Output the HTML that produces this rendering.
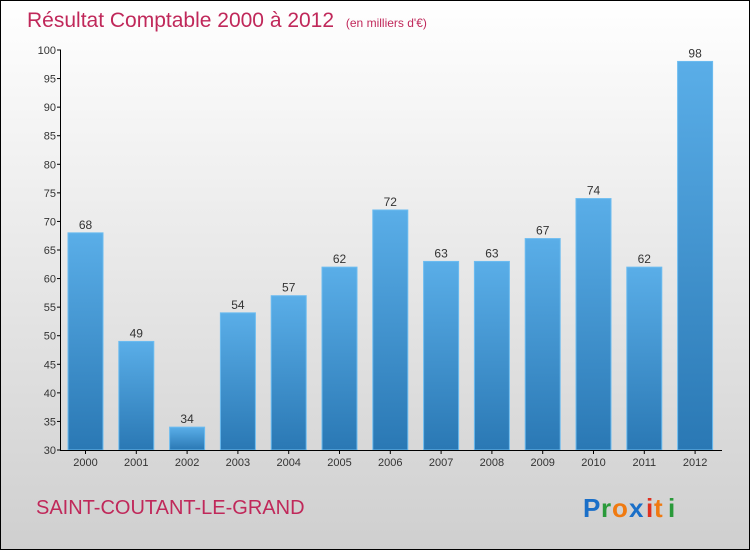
<!DOCTYPE html>
<html><head><meta charset="utf-8"><style>
html,body{margin:0;padding:0}
body{width:750px;height:550px;overflow:hidden;font-family:"Liberation Sans",sans-serif}
</style></head><body>
<svg id="chart" width="750" height="550" xmlns="http://www.w3.org/2000/svg">
<defs>
<linearGradient id="bg" x1="0" y1="0" x2="0" y2="1"><stop offset="0" stop-color="#ffffff"/><stop offset="1" stop-color="#cfcfcf"/></linearGradient>
<linearGradient id="bar" x1="0" y1="0" x2="0" y2="1"><stop offset="0" stop-color="#5aaee8"/><stop offset="1" stop-color="#2a78b4"/></linearGradient>
</defs>
<rect x="0.5" y="0.5" width="749" height="549" fill="url(#bg)" stroke="#000"/>
<text x="27" y="27" font-size="21" fill="#c0285a">Résultat Comptable 2000 à 2012 <tspan font-size="12" dx="6">(en milliers d'€)</tspan></text>
<g id="bars"></g>
<g id="axes"></g>
<text x="36" y="514" font-size="20" fill="#c0285a">SAINT-COUTANT-LE-GRAND</text>
<g font-size="26" font-weight="bold" font-family="'Liberation Sans',sans-serif">
<text x="583" y="517" fill="#1a6fc8">P</text><text x="601" y="517" fill="#2a9a3a">r</text><text x="612" y="517" fill="#f07a10">o</text><text x="629" y="517" fill="#1a6fc8">x</text><text x="646" y="517" fill="#e03020">i</text><text x="654" y="517" fill="#f07a10">t</text><text x="668" y="517" fill="#2a9a3a">i</text>
</g>
</svg>
<script>
const years=["2000","2001","2002","2003","2004","2005","2006","2007","2008","2009","2010","2011","2012"];
const values=[68,49,34,54,57,62,72,63,63,67,74,62,98];
const yTicks=[30,35,40,45,50,55,60,65,70,75,80,85,90,95,100];
const NS="http://www.w3.org/2000/svg";
const y=v=>450-(v-30)*400/70;
const x=i=>85.5+i*50.8;
const bars=document.getElementById('bars'),axes=document.getElementById('axes');
function mk(tag,attrs,parent,txt){const e=document.createElementNS(NS,tag);for(const k in attrs)e.setAttribute(k,attrs[k]);if(txt!==undefined)e.textContent=txt;parent.appendChild(e);return e;}
values.forEach((v,i)=>{
 const r=mk('rect',{x:x(i)-17.5,y:y(v),width:35,height:450-y(v),fill:'url(#bar)',stroke:'#6cbcf0','stroke-width':1},bars);
 
 
 const t=mk('text',{x:x(i),y:y(v)-4,'text-anchor':'middle','font-size':12,fill:'#333'},bars,String(v));
 
 
 const xl=mk('text',{x:x(i),y:466,'text-anchor':'middle','font-size':11,fill:'#333'},axes,years[i]);
 
 
 mk('line',{x1:x(i),x2:x(i),y1:450,y2:454,stroke:'#000'},axes);
});
const ya=mk('line',{x1:60.5,x2:60.5,y1:y(100),y2:450,stroke:'#000'},axes);


const xa=mk('line',{x1:60,x2:722,y1:450.5,y2:450.5,stroke:'#000'},axes);


yTicks.forEach(v=>{
 mk('line',{x1:57,x2:61,y1:y(v),y2:y(v),stroke:'#000'},axes);
 const t=mk('text',{x:56,y:y(v)+4,'text-anchor':'end','font-size':11,fill:'#333'},axes,String(v));
 
 
});
</script>
</body></html>
